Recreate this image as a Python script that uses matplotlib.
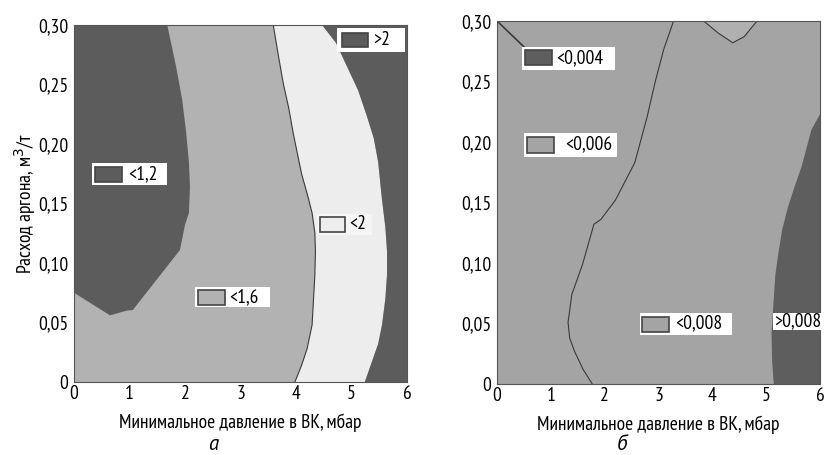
import matplotlib
matplotlib.use("Agg")
import matplotlib.pyplot as plt
from matplotlib.patches import Rectangle, Polygon

plt.rcParams['font.family'] = ['PT Sans Narrow', 'Roboto Condensed', 'DejaVu Sans']

W, H = 824, 455

# ---- panel a: contour boundaries (x = pressure, mbar; y = argon, m3/t)
dark_a_x = [0, 1.68, 1.84, 1.95, 2.02, 2.07, 2.09, 2.07, 2.0, 1.91, 1.06, 0.95, 0.65, 0]
dark_a_y = [0.30, 0.30, 0.265, 0.237, 0.21, 0.185, 0.164, 0.142, 0.132, 0.111, 0.0605, 0.060, 0.056, 0.075]

light_left_x = [3.59, 3.68, 3.77, 3.87, 3.95, 4.10, 4.22, 4.29, 4.34, 4.35, 4.34, 4.29, 4.20, 4.10, 3.98]
light_left_y = [0.30, 0.275, 0.251, 0.23, 0.209, 0.175, 0.155, 0.142, 0.125, 0.11, 0.090, 0.048, 0.028, 0.014, 0.0]
light_right_x = [4.47, 4.72, 4.92, 5.12, 5.28, 5.40, 5.48, 5.55, 5.61, 5.64, 5.64, 5.61, 5.55, 5.48, 5.39, 5.24]
light_right_y = [0.30, 0.285, 0.265, 0.245, 0.223, 0.205, 0.185, 0.153, 0.13, 0.11, 0.090, 0.07, 0.048, 0.032, 0.020, 0.0]

# ---- panel b
line_b_x = [3.28, 3.10, 2.94, 2.79, 2.56, 2.20, 1.93, 1.80, 1.59, 1.39, 1.32, 1.35, 1.44, 1.60, 1.77]
line_b_y = [0.30, 0.277, 0.25, 0.221, 0.183, 0.152, 0.136, 0.132, 0.099, 0.074, 0.051, 0.038, 0.027, 0.012, 0.0]
bump_x = [3.84, 4.11, 4.38, 4.59, 4.83]
bump_y = [0.30, 0.290, 0.282, 0.287, 0.30]
corner_x = [0, 0.54]
corner_y = [0.30, 0.277]
dark_b_x = [6.0, 5.84, 5.66, 5.52, 5.41, 5.30, 5.23, 5.17, 5.14, 5.10, 5.11, 5.14]
dark_b_y = [0.223, 0.21, 0.18, 0.162, 0.147, 0.128, 0.109, 0.09, 0.07, 0.042, 0.02, 0.0]

xticks = [0, 1, 2, 3, 4, 5, 6]
yticks = [0, 0.05, 0.10, 0.15, 0.20, 0.25, 0.30]
ylabels = ['0', '0,05', '0,10', '0,15', '0,20', '0,25', '0,30']

c_dark = '#5c5c5c'
c_mid = '#b2b2b2'
c_light = '#ededed'
c_b = '#a4a4a4'
c_b_dark = '#5e5e5e'
c_line = '#3a3a3a'
fs = 14

fig = plt.figure(figsize=(W / 100, H / 100), dpi=100)


def fpos(x0, y0, x1, y1):
    return [x0 / W, 1 - y1 / H, (x1 - x0) / W, (y1 - y0) / H]


def style(ax):
    ax.set_xlim(0, 6)
    ax.set_ylim(0, 0.30)
    ax.set_xticks(xticks)
    ax.set_xticklabels([str(t) for t in xticks])
    ax.set_yticks(yticks)
    ax.set_yticklabels(ylabels)
    ax.tick_params(length=0, labelsize=fs)
    ax.tick_params(axis='y', pad=4)
    ax.tick_params(axis='x', pad=2)
    for s in ax.spines.values():
        s.set_color('#555555')
        s.set_linewidth(0.8)
    ax.set_xlabel('Минимальное давление в ВК, мбар', fontsize=fs, labelpad=8)


axa = fig.add_axes(fpos(74, 25, 407, 382))
axa.set_facecolor(c_mid)
axa.add_patch(Polygon(list(zip(dark_a_x, dark_a_y)), closed=True, fc=c_dark, ec='none'))
band = list(zip(light_left_x, light_left_y)) + list(zip(light_right_x, light_right_y))[::-1]
axa.add_patch(Polygon(band, closed=True, fc=c_light, ec='none'))
right_dark = list(zip(light_right_x, light_right_y)) + [(6, 0), (6, 0.30)]
axa.add_patch(Polygon(right_dark, closed=True, fc=c_dark, ec='none'))
axa.plot(light_left_x, light_left_y, color=c_line, lw=0.8)
style(axa)
axa.set_ylabel('Расход аргона, м$^3$/т', fontsize=fs, labelpad=0)

axb = fig.add_axes(fpos(497, 21, 820, 384))
axb.set_facecolor(c_b)
axb.add_patch(Polygon(list(zip(bump_x, bump_y)), closed=True, fc='#b0b0b0', ec='none'))
axb.add_patch(Polygon(list(zip(dark_b_x, dark_b_y)) + [(6, 0)], closed=True, fc=c_b_dark, ec='none'))
axb.plot(line_b_x, line_b_y, color=c_line, lw=0.8)
axb.plot(bump_x, bump_y, color=c_line, lw=0.8)
axb.plot(corner_x, corner_y, color=c_line, lw=1.2)
style(axb)


def key(box, sw, text, tx, ty, swc, bg='white'):
    x0, y0, x1, y1 = box
    fig.add_artist(Rectangle((x0 / W, 1 - y1 / H), (x1 - x0) / W, (y1 - y0) / H,
                             transform=fig.transFigure, fc=bg, ec='none'))
    if sw is not None:
        sx0, sy0, sx1, sy1 = sw
        fig.add_artist(Rectangle((sx0 / W, 1 - sy1 / H), (sx1 - sx0) / W, (sy1 - sy0) / H,
                                 transform=fig.transFigure, fc=swc, ec='#444444', lw=1.2))
    fig.text(tx / W, 1 - ty / H, text, fontsize=fs, va='center', ha='left')


key((337, 28, 405, 52), (342, 33, 368, 47), '>2', 373, 40, c_dark)
key((92, 163, 167, 185), (95, 167, 122, 182), '<1,2', 128, 174, c_dark)
key((195, 287, 270, 307), (198, 290, 225, 305), '<1,6', 229, 297, c_mid)
key((317, 214, 372, 235), (320, 217, 345, 232), '<2', 349, 224, c_light, bg='#f6f6f6')
key((522, 47, 615, 70), (525, 50, 552, 65), '<0,004', 556, 58, c_b_dark)
key((524, 133, 617, 157), (527, 137, 554, 153), '<0,006', 565, 144, c_b)
key((640, 313, 732, 335), (642, 317, 669, 332), '<0,008', 675, 323, c_b)
key((773, 313, 822, 330), None, '>0,008', 774, 321, c_b_dark)

cap = ['PT Sans', 'DejaVu Sans']
fig.text(213 / W, 1 - 444 / H, 'а', fontsize=fs + 1, style='italic', family=cap, ha='center', va='center')
fig.text(622 / W, 1 - 444 / H, 'б', fontsize=fs + 1, style='italic', family=cap, ha='center', va='center')

fig.savefig('out.png', dpi=100)
